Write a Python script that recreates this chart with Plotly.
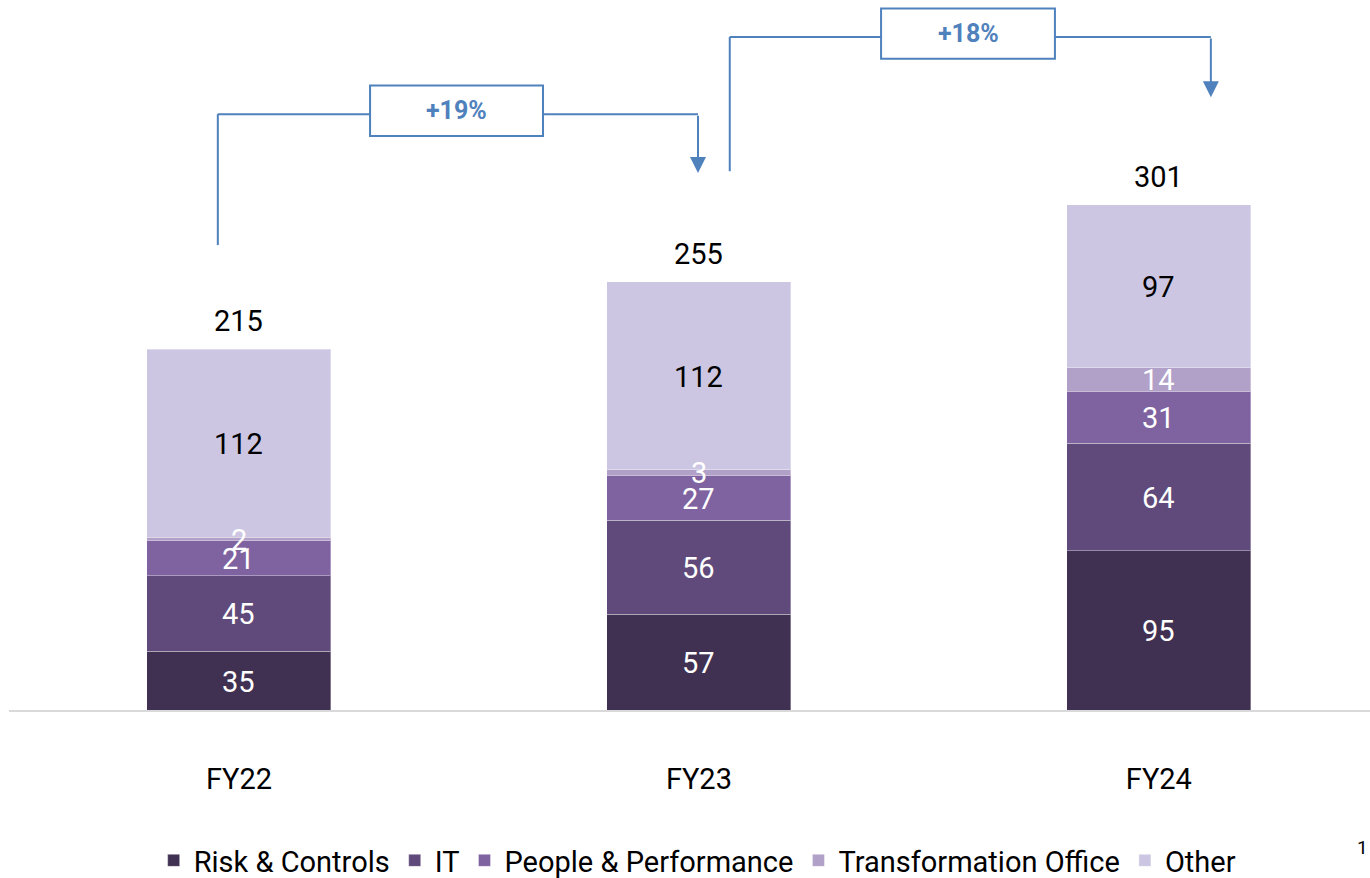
import plotly.graph_objects as go

categories = ["FY22", "FY23", "FY24"]
risk_controls = [35, 57, 95]
it = [45, 56, 64]
people_perf = [21, 27, 31]
transformation = [2, 3, 14]
other = [112, 112, 97]
totals = [215, 255, 301]
growth_labels = ["+19%", "+18%"]

series = [
    ("Risk & Controls", risk_controls, "#403152"),
    ("IT", it, "#5F4A7B"),
    ("People & Performance", people_perf, "#7F63A1"),
    ("Transformation Office", transformation, "#B1A0C7"),
    ("Other", other, "#CCC6E3"),
]
label_colors = ["white", "white", "white", "white", "black"]

FONT = "Roboto"
BLUE = "#4F81BD"

fig = go.Figure()
base = [0, 0, 0]
for (name, vals, color), lc in zip(series, label_colors):
    fig.add_trace(go.Bar(
        x=categories, y=vals, name=name,
        marker=dict(color=color, line=dict(color="rgba(255,255,255,0.35)", width=1)),
        hoverinfo="x+y+name",
    ))
    for c, b, v in zip(categories, base, vals):
        fig.add_annotation(x=c, y=b + v / 2, xref="x", yref="y", text=str(v),
                           showarrow=False, yanchor="middle", yshift=-1,
                           font=dict(family=FONT, size=29, color=lc))
    base = [b + v for b, v in zip(base, vals)]

# totals above bars
for c, t in zip(categories, totals):
    fig.add_annotation(x=c, y=t, xref="x", yref="y", text=str(t), showarrow=False,
                       yanchor="bottom", yshift=9,
                       font=dict(family=FONT, size=29, color="black"))

# growth brackets (data coordinates relative to category index)
def bracket(x0, y0, x1, y_top, y1_end, bx0, bx1, by0, by1, label):
    fig.add_shape(type="line", xref="x", yref="y", x0=x0, y0=y0, x1=x0, y1=y_top,
                  line=dict(color=BLUE, width=2))
    fig.add_shape(type="line", xref="x", yref="y", x0=x0, y0=y_top, x1=bx0, y1=y_top,
                  line=dict(color=BLUE, width=2))
    fig.add_shape(type="line", xref="x", yref="y", x0=bx1, y0=y_top, x1=x1, y1=y_top,
                  line=dict(color=BLUE, width=2))
    fig.add_shape(type="rect", xref="x", yref="y", x0=bx0, y0=by0, x1=bx1, y1=by1,
                  line=dict(color=BLUE, width=2), fillcolor="white")
    fig.add_annotation(x=x1, y=y1_end, ax=x1, ay=y_top, xref="x", yref="y",
                       axref="x", ayref="y", showarrow=True, arrowhead=2,
                       arrowsize=1.6, arrowwidth=2, arrowcolor=BLUE, text="")
    fig.add_annotation(x=(bx0 + bx1) / 2, y=(by0 + by1) / 2, xref="x", yref="y",
                       text="<b>" + label + "</b>", showarrow=False,
                       font=dict(family=FONT, size=25, color=BLUE))

bracket(-0.046, 277, 0.998, 355, 320, 0.285, 0.661, 342, 372, growth_labels[0])
bracket(1.067, 321, 2.113, 401, 365, 1.396, 1.774, 388, 418, growth_labels[1])

fig.add_annotation(x=1.0, y=-0.194, xref="paper", yref="paper", xanchor="right",
                   yanchor="middle", text="1", showarrow=False,
                   font=dict(family=FONT, size=19, color="black"))

fig.update_layout(
    barmode="stack",
    bargap=0.6,
    width=1370, height=878,
    margin=dict(l=9, r=0, t=0, b=168, autoexpand=False),
    plot_bgcolor="white", paper_bgcolor="white",
    font=dict(family=FONT, size=28, color="black"),
    xaxis=dict(range=[-0.5, 2.459], showline=True, linecolor="#D9D9D9", linewidth=2,
               ticks="", tickfont=dict(family=FONT, size=29, color="black"),
               ticklabelstandoff=42, showgrid=False, zeroline=False),
    yaxis=dict(range=[0, 423], visible=False, showgrid=False, zeroline=False),
    legend=dict(orientation="h", x=0.506, xanchor="center", y=-0.212, yanchor="middle",
                font=dict(family=FONT, size=29, color="black"), traceorder="normal",
                itemclick=False),
    showlegend=True,
)

fig.write_html("out.html")
